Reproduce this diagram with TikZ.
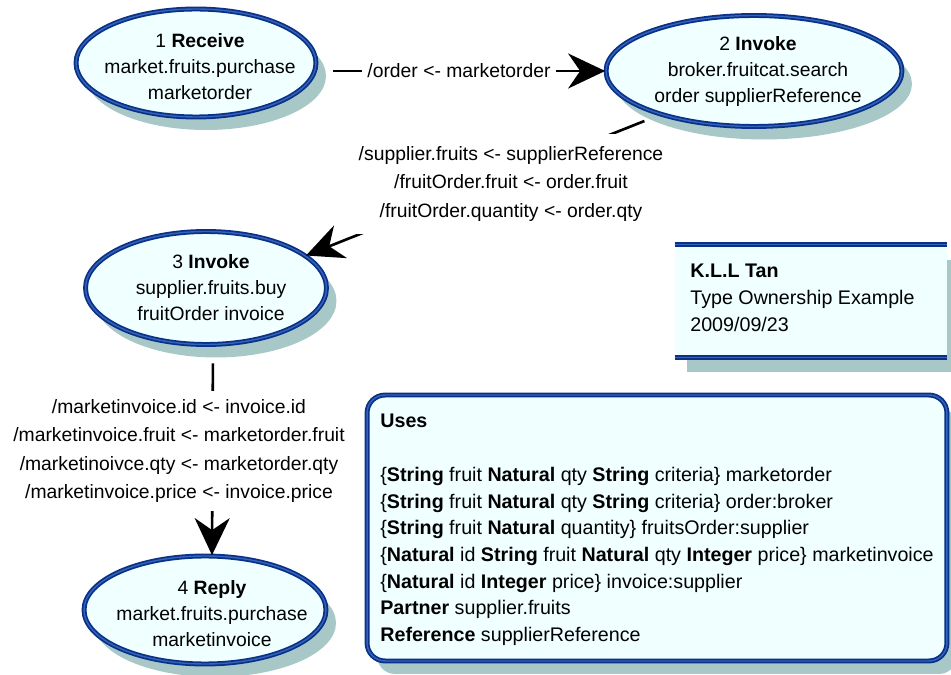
\documentclass[tikz,border=0pt]{standalone}
\usepackage{fontspec}
\setmainfont{Liberation Sans}
\usepackage{tikz}
\usetikzlibrary{shapes.geometric}
\usetikzlibrary{shadows}
\usetikzlibrary{arrows.meta}
\definecolor{cellfill}{RGB}{240,255,255}
\definecolor{cellshadow}{RGB}{168,200,200}
\definecolor{celldraw}{RGB}{10,48,135}
\definecolor{cellline}{RGB}{50,100,185}

\begin{document}
\begin{tikzpicture}[x=0.02cm,y=-0.02cm,
		cellborder/.style={draw=celldraw, double=cellline, double distance=0.8pt, line width=1pt},
		cellshade/.style={drop shadow={shadow xshift=0.2cm, shadow yshift=-0.26cm, draw=none, fill=cellshadow, opacity=1}},
		activity/.style={ellipse, cellborder, fill=cellfill, cellshade, inner sep=0pt},
		activitytext/.style={align=center, font=\fontsize{11}{14.8}\selectfont, inner sep=0pt},
		flow/.style={line width=1.5pt, -{Stealth[length=0.74cm, width=0.7cm, inset=0.24cm]}},
		flowlabel/.style={fill=white, align=center, font=\fontsize{11}{16.2}\selectfont},
		infotext/.style={align=left, font=\fontsize{11.2}{15.2}\selectfont, inner sep=0pt}]
		\useasboundingbox (0,0) rectangle (951,675);
		% the four activities
		\node[activity, minimum width=4.8cm, minimum height=2.16cm] (recv) at (196,63) {};
		\node[activity, minimum width=5.92cm, minimum height=2.22cm] (invsearch) at (754,71) {};
		\node[activity, minimum width=4.82cm, minimum height=2.26cm] (invbuy) at (206,288) {};
		\node[activity, minimum width=4.84cm, minimum height=2.16cm] (reply) at (205,610) {};
		\node[activitytext] (recvtext) at (200,67) {1 \textbf{Receive}\\market.fruits.purchase\\marketorder};
		\node[activitytext] (invsearchtext) at (758,72) {2 \textbf{Invoke}\\broker.fruitcat.search\\order supplierReference};
		\node[activitytext] (invbuytext) at (211,288) {3 \textbf{Invoke}\\supplier.fruits.buy\\fruitOrder invoice};
		\node[activitytext] (replytext) at (212,614) {4 \textbf{Reply}\\market.fruits.purchase\\marketinvoice};
		% flows and their assignments
		\draw[flow, shorten <=0.32cm] (recv.east |- invsearch.west) -- (invsearch.west);
		\draw[flow, shorten <=0.34cm] (invsearch.205) -- (invbuy.18);
		\draw[flow, shorten <=0.36cm] ([xshift=0.14cm]invbuy.south) -- ([xshift=0.14cm]reply.north);
		\node[flowlabel, inner sep=0.1cm] (orderlabel) at (459,71) {/order <- marketorder};
		\node[flowlabel, inner xsep=0.1cm, inner ysep=0.26cm] (searchlabel) at (511,184) {/supplier.fruits <- supplierReference\\/fruitOrder.fruit <- order.fruit\\/fruitOrder.quantity <- order.qty};
		\node[flowlabel, inner sep=0.16cm] (buylabel) at (179,451) {/marketinvoice.id <- invoice.id\\/marketinvoice.fruit <- marketorder.fruit\\/marketinoivce.qty <- marketorder.qty\\/marketinvoice.price <- invoice.price};
		% author note
		\node[fill=cellfill, inner sep=0pt, minimum width=5.44cm, minimum height=2.24cm,
			drop shadow={shadow xshift=0.24cm, shadow yshift=-0.3cm, draw=none, fill=cellshadow, opacity=1}] (note) at (811,301) {};
		\draw[cellborder] (note.north west) -- (note.north east);
		\draw[cellborder] (note.south west) -- (note.south east);
		\node[infotext, anchor=west] (notetext) at (690,298) {\textbf{K.L.L Tan}\\Type Ownership Example\\2009/09/23};
		% types used
		\node[cellborder, fill=cellfill, cellshade, rounded corners=0.36cm, inner sep=0pt,
			minimum width=11.6cm, minimum height=5.32cm] (uses) at (657,528) {};
		\node[infotext, anchor=west] (usestext) at (380,530) {\textbf{Uses}\\[15.2pt]
			\{\textbf{String} fruit \textbf{Natural} qty \textbf{String} criteria\} marketorder\\
			\{\textbf{String} fruit \textbf{Natural} qty \textbf{String} criteria\} order:broker\\
			\{\textbf{String} fruit \textbf{Natural} quantity\} fruitsOrder:supplier\\
			\{\textbf{Natural} id \textbf{String} fruit \textbf{Natural} qty \textbf{Integer} price\} marketinvoice\\
			\{\textbf{Natural} id \textbf{Integer} price\} invoice:supplier\\
			\textbf{Partner} supplier.fruits\\
			\textbf{Reference} supplierReference};
\end{tikzpicture}
\end{document}
